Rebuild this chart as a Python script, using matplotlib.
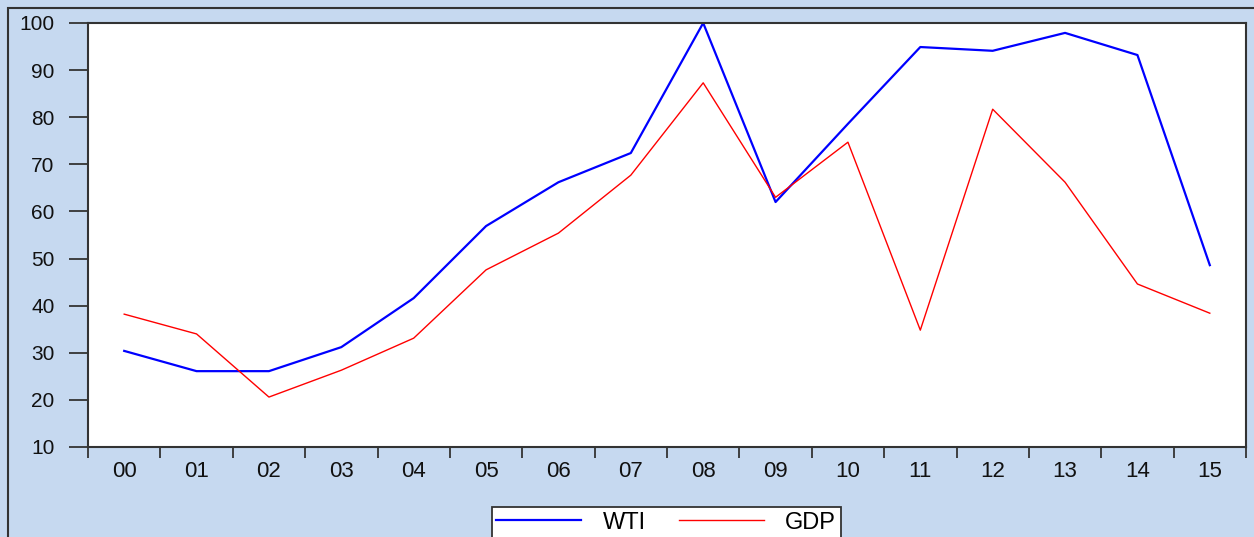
import matplotlib
matplotlib.use("Agg")
import matplotlib.pyplot as plt
from matplotlib.patches import Rectangle
import numpy as np

years = ["00", "01", "02", "03", "04", "05", "06", "07", "08", "09", "10", "11", "12", "13", "14", "15"]
wti = [30.4, 26.1, 26.1, 31.2, 41.6, 56.9, 66.2, 72.4, 100.0, 62.0, 78.6, 94.9, 94.1, 97.9, 93.2, 48.6]
gdp = [38.2, 34.0, 20.6, 26.3, 33.1, 47.6, 55.4, 67.7, 87.3, 63.0, 74.7, 34.8, 81.7, 66.2, 44.6, 38.4]

plt.rcParams['font.family'] = ['Liberation Sans', 'DejaVu Sans']
W, H = 1254, 537
fig = plt.figure(figsize=(W / 100, H / 100), dpi=100)
bg = "#c6d9f0"
fig.patch.set_facecolor(bg)

# outer frame
fig.patches.append(Rectangle((8 / W, -0.1), 1.2, (H - 8) / H + 0.1, transform=fig.transFigure,
                             fill=False, edgecolor="#333333", linewidth=1.5, zorder=0))

left, right, top, bottom = 88, 1246, 23, 447
ax = fig.add_axes([left / W, 1 - bottom / H, (right - left) / W, (bottom - top) / H])
ax.set_facecolor("white")

x = np.arange(len(years))
ax.plot(x, wti, color="#0000ff", linewidth=1.6, label="WTI")
ax.plot(x, gdp, color="#ff0000", linewidth=1.0, label="GDP")

ax.set_xlim(-0.5, len(years) - 0.5)
ax.set_ylim(10, 100)
ax.set_yticks(np.arange(10, 101, 10))
ax.set_xticks(x)
ax.set_xticklabels(years)
ax.set_xticks(np.arange(-0.5, len(years), 1), minor=True)
ax.tick_params(axis='x', which='major', length=0, pad=10, labelsize=16, colors="#111111")
ax.tick_params(axis='x', which='minor', length=8, width=1.3, color="#333333", direction='out')
ax.tick_params(axis='y', length=14, width=1.3, color="#333333", pad=10, labelsize=15, labelcolor="#111111")
for s in ax.spines.values():
    s.set_color("#333333")
    s.set_linewidth(1.5)

leg = fig.legend(loc="upper center", bbox_to_anchor=(666 / W, 1 - 507 / H), ncol=2,
                 fontsize=17, frameon=True, fancybox=False, edgecolor="#333333",
                 framealpha=1.0, facecolor="white",
                 handlelength=3.6, columnspacing=1.4, handletextpad=0.9, borderpad=0.2,
                 borderaxespad=0)
leg.get_frame().set_linewidth(1.3)

fig.savefig("out.png", dpi=100, facecolor=bg)
